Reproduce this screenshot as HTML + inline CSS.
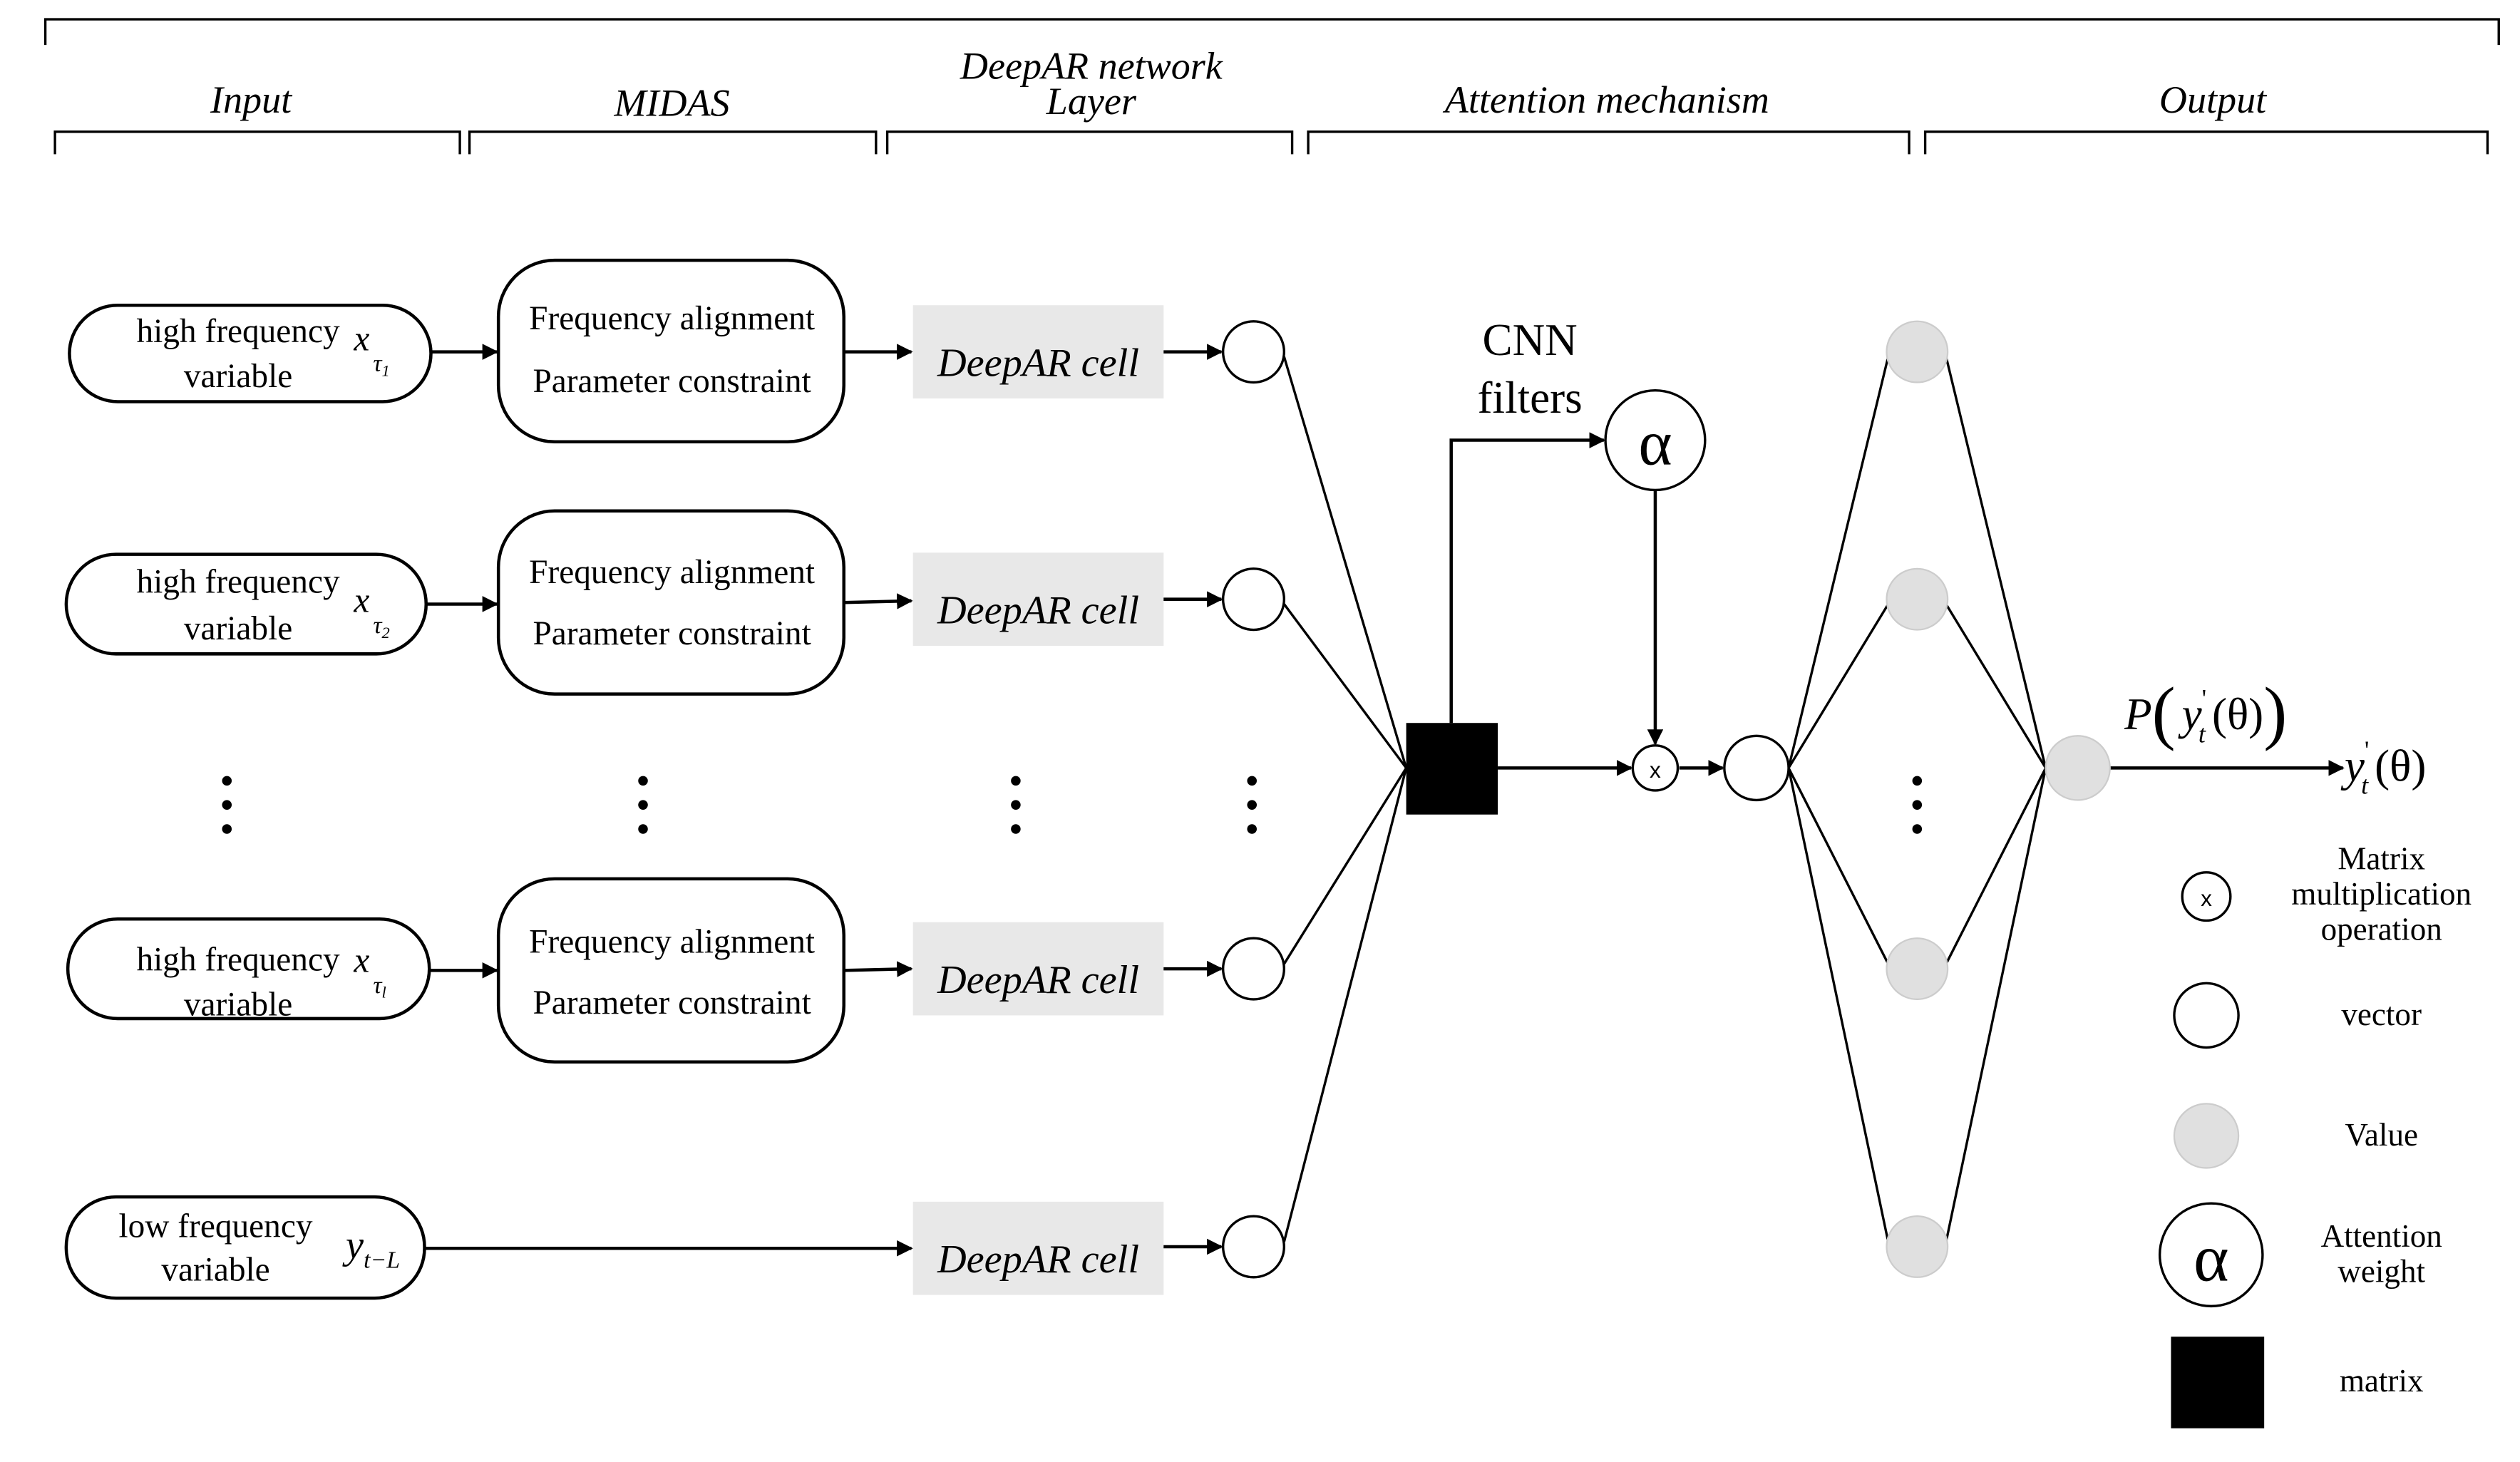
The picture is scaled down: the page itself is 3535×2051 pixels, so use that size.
<!DOCTYPE html>
<html><head><meta charset="utf-8"><style>html,body{margin:0;padding:0;background:#fff}svg{display:block}</style></head>
<body>
<svg width="3535" height="2051" viewBox="0 0 1568 910" xmlns="http://www.w3.org/2000/svg" font-family="'Liberation Serif',serif">
<defs><marker id="a" markerWidth="10" markerHeight="10" refX="9" refY="5" orient="auto" markerUnits="userSpaceOnUse"><path d="M0,0 L10,5 L0,10z" fill="#000"/></marker>
<g id="d"><circle cx="0" cy="486" r="3"/><circle cx="0" cy="501" r="3"/><circle cx="0" cy="516" r="3"/></g></defs>
<g fill="none" stroke="#000" stroke-width="1.5">
<path d="M28,28 V12 H1555 V28"/>
<path d="M34,96 V82 H286 V96"/><path d="M292,96 V82 H545 V96"/><path d="M552,96 V82 H804 V96"/><path d="M814,96 V82 H1188 V96"/><path d="M1198,96 V82 H1548 V96"/>
</g>
<g font-style="italic" font-size="24" text-anchor="middle">
<text x="156" y="70">Input</text><text x="418" y="72">MIDAS</text><text x="679" y="49">DeepAR network</text><text x="679" y="71">Layer</text><text x="1000" y="70">Attention mechanism</text><text x="1377" y="70">Output</text>
</g>
<g fill="#fff" stroke="#000" stroke-width="2">
<rect x="43" y="190" width="225" height="60" rx="30"/><rect x="41" y="345" width="224" height="62" rx="31"/><rect x="42" y="572" width="225" height="62" rx="31"/><rect x="41" y="745" width="223" height="63" rx="31"/>
<rect x="310" y="162" width="215" height="113" rx="35"/><rect x="310" y="318" width="215" height="114" rx="35"/><rect x="310" y="547" width="215" height="114" rx="35"/>
</g>
<g fill="#e8e8e8"><rect x="568" y="190" width="156" height="58"/><rect x="568" y="344" width="156" height="58"/><rect x="568" y="574" width="156" height="58"/><rect x="568" y="748" width="156" height="58"/></g>
<g font-size="21" text-anchor="middle">
<text x="148" y="213">high frequency</text><text x="148" y="241">variable</text>
<text x="148" y="369">high frequency</text><text x="148" y="398">variable</text>
<text x="148" y="604">high frequency</text><text x="148" y="632">variable</text>
<text x="134" y="770">low frequency</text><text x="134" y="797">variable</text>
<text x="418" y="205">Frequency alignment</text><text x="418" y="244">Parameter constraint</text>
<text x="418" y="363">Frequency alignment</text><text x="418" y="401">Parameter constraint</text>
<text x="418" y="593">Frequency alignment</text><text x="418" y="631">Parameter constraint</text>
</g>
<g font-style="italic" font-size="22">
<text x="220" y="218">x</text><text x="232" y="231" font-size="15">τ<tspan font-size="10" dy="3">1</tspan></text>
<text x="220" y="381">x</text><text x="232" y="394" font-size="15">τ<tspan font-size="10" dy="3">2</tspan></text>
<text x="220" y="605">x</text><text x="232" y="618" font-size="15">τ<tspan font-size="10" dy="3">l</tspan></text>
<text x="215" y="783" font-size="25">y<tspan font-size="15" dy="6">t−L</tspan></text>
</g>
<g font-style="italic" font-size="25" text-anchor="middle"><text x="646" y="234">DeepAR cell</text><text x="646" y="388">DeepAR cell</text><text x="646" y="618">DeepAR cell</text><text x="646" y="792">DeepAR cell</text></g>
<g stroke="#000" stroke-width="2" fill="none" marker-end="url(#a)">
<line x1="268" y1="219" x2="309" y2="219"/><line x1="265" y1="376" x2="309" y2="376"/><line x1="267" y1="604" x2="309" y2="604"/><line x1="264" y1="777" x2="567" y2="777"/>
<line x1="525" y1="219" x2="567" y2="219"/><line x1="525" y1="375" x2="567" y2="374"/><line x1="525" y1="604" x2="567" y2="603"/>
<line x1="724" y1="219" x2="760" y2="219"/><line x1="724" y1="373" x2="760" y2="373"/><line x1="724" y1="603" x2="760" y2="603"/><line x1="724" y1="776" x2="760" y2="776"/>
<path d="M903,450 V274 H998"/><line x1="1030" y1="305" x2="1030" y2="463"/><line x1="932" y1="478" x2="1015" y2="478"/><line x1="1045" y1="478" x2="1072" y2="478"/><line x1="1313" y1="478" x2="1458" y2="478"/>
</g>
<g stroke="#000" stroke-width="1.5">
<line x1="799" y1="222" x2="875" y2="478"/><line x1="799" y1="376" x2="875" y2="478"/><line x1="799" y1="600" x2="875" y2="478"/><line x1="799" y1="773" x2="875" y2="478"/>
<line x1="1113" y1="478" x2="1175" y2="222"/><line x1="1113" y1="478" x2="1175" y2="376"/><line x1="1113" y1="478" x2="1175" y2="600"/><line x1="1113" y1="478" x2="1175" y2="773"/>
<line x1="1211" y1="222" x2="1273" y2="478"/><line x1="1211" y1="376" x2="1273" y2="478"/><line x1="1211" y1="600" x2="1273" y2="478"/><line x1="1211" y1="773" x2="1273" y2="478"/>
</g>
<g fill="#fff" stroke="#000" stroke-width="1.5">
<circle cx="780" cy="219" r="19"/><circle cx="780" cy="373" r="19"/><circle cx="780" cy="603" r="19"/><circle cx="780" cy="776" r="19"/>
<circle cx="1030" cy="274" r="31"/><circle cx="1030" cy="478" r="14"/><circle cx="1093" cy="478" r="20"/>
<circle cx="1373" cy="558" r="15"/><circle cx="1373" cy="632" r="20"/><circle cx="1376" cy="781" r="32"/>
</g>
<g fill="#e0e0e0" stroke="#ccc" stroke-width="1">
<circle cx="1193" cy="219" r="19"/><circle cx="1193" cy="373" r="19"/><circle cx="1193" cy="603" r="19"/><circle cx="1193" cy="776" r="19"/><circle cx="1293" cy="478" r="20"/><circle cx="1373" cy="707" r="20"/>
</g>
<rect x="875" y="450" width="57" height="57" fill="#000"/><rect x="1351" y="832" width="58" height="57" fill="#000"/>
<g fill="#000">
<use href="#d" x="141"/><use href="#d" x="400"/><use href="#d" x="632"/><use href="#d" x="779"/><use href="#d" x="1193"/></g>
<g text-anchor="middle">
<text x="952" y="221" font-size="28">CNN</text><text x="952" y="257" font-size="28">filters</text>
<text x="1030" y="289" font-size="40">α</text><text x="1030" y="484" font-size="14" font-family="'Liberation Sans',sans-serif">x</text>
<text x="1373" y="564" font-size="14" font-family="'Liberation Sans',sans-serif">x</text><text x="1376" y="797" font-size="42">α</text>
<g font-size="20"><text x="1482" y="541">Matrix</text><text x="1482" y="563">multiplication</text><text x="1482" y="585">operation</text>
<text x="1482" y="638">vector</text><text x="1482" y="713">Value</text><text x="1482" y="776">Attention</text><text x="1482" y="798">weight</text><text x="1482" y="866">matrix</text></g>
</g>
<text x="1322" y="454" font-size="28"><tspan font-style="italic">P</tspan><tspan font-size="44" dy="4">(</tspan><tspan font-style="italic" dy="-4" dx="4">y</tspan><tspan font-size="16" dy="-14">'</tspan><tspan font-size="16" font-style="italic" dy="22" dx="-5">t</tspan><tspan dy="-8" dx="4">(θ)</tspan><tspan font-size="44" dy="4">)</tspan></text>
<text x="1459" y="486" font-size="28"><tspan font-style="italic">y</tspan><tspan font-size="16" dy="-14">'</tspan><tspan font-size="16" font-style="italic" dy="22" dx="-5">t</tspan><tspan dy="-8" dx="4">(θ)</tspan></text>
</svg>
</body></html>
